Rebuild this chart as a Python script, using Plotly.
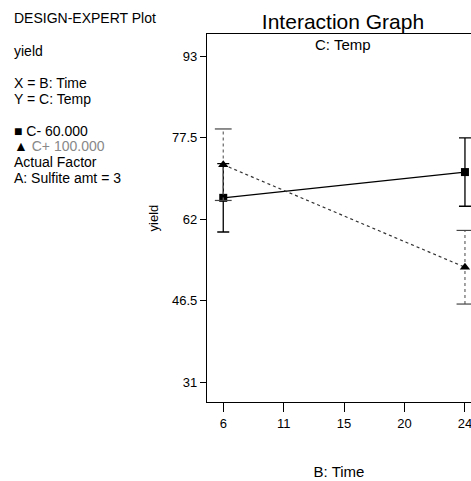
import plotly.graph_objects as go

time_levels = [6, 24]
c_minus_yield = [66.1, 71.0]
c_minus_err = [6.5, 6.5]
c_plus_yield = [72.4, 52.9]
c_plus_err = [6.8, 7.0]

x_tickvals = [6, 10.5, 15, 19.5, 24]
x_ticktext = ["6", "11", "15", "20", "24"]
y_tickvals = [31, 46.5, 62, 77.5, 93]
y_ticktext = ["31", "46.5", "62", "77.5", "93"]

FONT = "Liberation Sans, Arial, sans-serif"
W, H = 471, 481
ML, MR, MT, MB = 207, 0, 34, 79

fig = go.Figure()

# C- : solid line with solid error bars, squares
fig.add_trace(go.Scatter(
    x=time_levels, y=c_minus_yield, mode="lines+markers", cliponaxis=False,
    line=dict(color="black", width=1.3),
    marker=dict(symbol="square", size=8, color="black"),
    error_y=dict(type="data", array=c_minus_err, color="black", thickness=1.3, width=6),
    showlegend=False, hoverinfo="skip"))

# C+ : dotted error bars
vx, vy, cx, cy = [], [], [], []
for xv, yv, e in zip(time_levels, c_plus_yield, c_plus_err):
    vx += [xv, xv, None]
    vy += [yv - e, yv + e, None]
    cx += [xv, xv]
    cy += [yv - e, yv + e]
fig.add_trace(go.Scatter(x=vx, y=vy, mode="lines", cliponaxis=False,
                         line=dict(color="#666", width=1.2, dash="dot"),
                         showlegend=False, hoverinfo="skip"))
fig.add_trace(go.Scatter(x=cx, y=cy, mode="markers", cliponaxis=False,
                         marker=dict(symbol="line-ew-open", size=12, color="#444",
                                     line=dict(color="#444", width=1.2)),
                         showlegend=False, hoverinfo="skip"))
fig.add_trace(go.Scatter(
    x=time_levels, y=c_plus_yield, mode="lines+markers", cliponaxis=False,
    line=dict(color="#333", width=1.2, dash="dot"),
    marker=dict(symbol="triangle-up", size=9, color="black"),
    showlegend=False, hoverinfo="skip"))

fig.update_xaxes(range=[4.79, 24.45], tickvals=x_tickvals, ticktext=x_ticktext,
                 ticks="outside", ticklen=9, tickcolor="black", tickwidth=1.2,
                 ticklabeloverflow="allow",
                 showline=True, linecolor="black", linewidth=1.2, mirror=True,
                 showgrid=False, zeroline=False,
                 tickfont=dict(family=FONT, size=13, color="black"),
                 title=dict(text="B: Time", font=dict(family=FONT, size=15, color="black"),
                            standoff=36))
fig.update_yaxes(range=[27.27, 97.26], tickvals=y_tickvals, ticktext=y_ticktext,
                 ticks="outside", ticklen=6, tickcolor="black", tickwidth=1.2,
                 showline=True, linecolor="black", linewidth=1.2,
                 showgrid=False, zeroline=False,
                 tickfont=dict(family=FONT, size=13, color="black"),
                 title=dict(text="yield", font=dict(family=FONT, size=13, color="black"),
                            standoff=10))

left_lines = [
    ("DESIGN-EXPERT Plot", 18),
    ("yield", 51),
    ("X = B: Time", 83),
    ("Y = C: Temp", 99),
    ("■ C- 60.000", 131),
    ("▲ <span style='color:#888'>C+ 100.000</span>", 146),
    ("Actual Factor", 162),
    ("A: Sulfite amt = 3", 178),
]
plot_w = W - ML - MR
plot_h = H - MT - MB


def px_to_paper(px_x, px_y):
    return (px_x - ML) / plot_w, (H - px_y - MB) / plot_h


annotations = []
for txt, ypx in left_lines:
    ax, ay = px_to_paper(12, ypx)
    annotations.append(dict(text=txt, x=ax, y=ay, xref="paper", yref="paper",
                            showarrow=False, xanchor="left", yanchor="middle",
                            font=dict(family=FONT, size=14, color="black")))
ax, ay = px_to_paper(343, 45)
annotations.append(dict(text="C: Temp", x=ax, y=ay, xref="paper", yref="paper",
                        showarrow=False, xanchor="center", yanchor="middle",
                        font=dict(family=FONT, size=15, color="black")))

fig.update_layout(
    width=W, height=H,
    margin=dict(l=ML, r=MR, t=MT, b=MB),
    plot_bgcolor="white", paper_bgcolor="white",
    title=dict(text="Interaction Graph", x=343 / W, xanchor="center", y=1 - 22 / H,
               yanchor="middle", font=dict(family=FONT, size=21, color="black")),
    annotations=annotations,
)

fig.write_html("out.html", config={"displayModeBar": False},
               post_script="document.body.style.margin='0';")
